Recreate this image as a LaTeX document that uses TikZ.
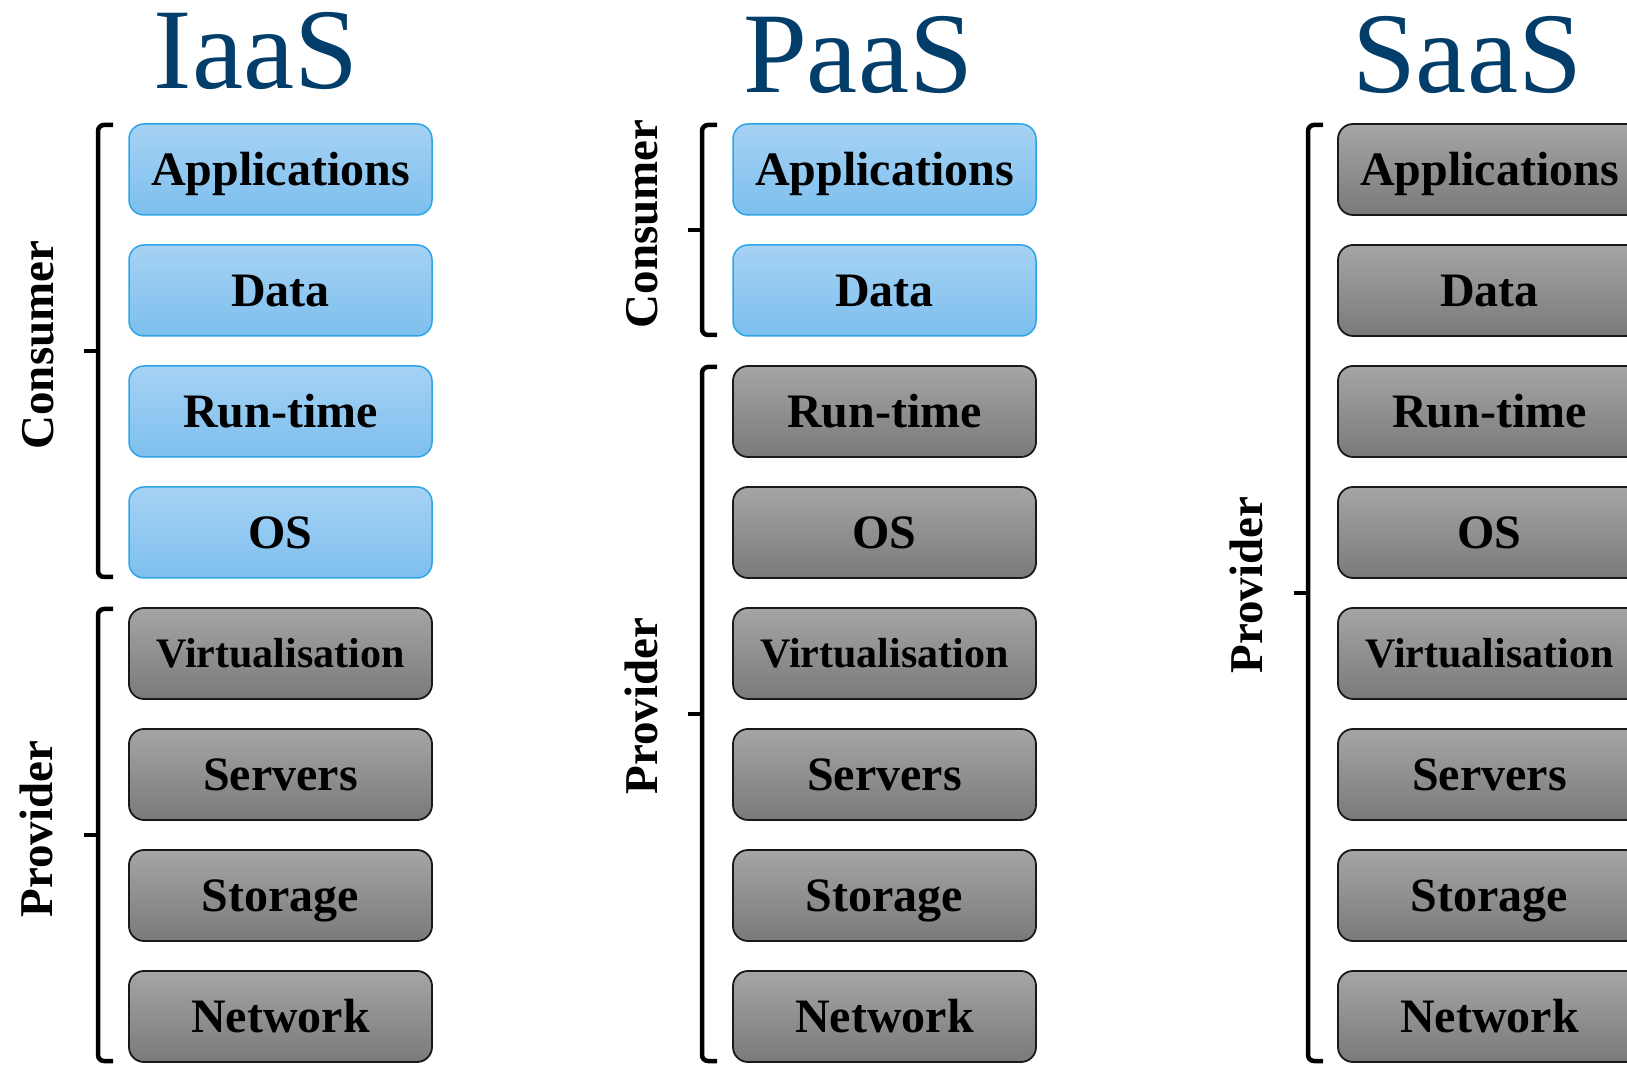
\documentclass[tikz,border=0pt]{standalone}
\usepackage{fontspec}
\setmainfont{Liberation Serif}

\definecolor{titleblue}{RGB}{3,62,107}
\definecolor{userlight}{RGB}{166,210,244}
\definecolor{userdark}{RGB}{125,191,238}
\definecolor{useredge}{RGB}{45,164,230}
\definecolor{provlight}{RGB}{165,165,165}
\definecolor{provdark}{RGB}{122,122,122}

\tikzset{
  layer/.style={rounded corners=15pt, minimum width=303pt, minimum height=91pt,
    text height=32pt, text depth=0pt, inner sep=0pt,
    font=\bfseries\fontsize{48}{50}\selectfont},
  longname/.style={text height=28pt, font=\bfseries\fontsize{42}{44}\selectfont},
  userlayer/.style={layer, draw=useredge, line width=1.5pt, top color=userlight, bottom color=userdark},
  provlayer/.style={layer, draw=black!90, line width=1.8pt, top color=provlight, bottom color=provdark},
  stacktitle/.style={anchor=base, text=titleblue, font=\fontsize{115}{115}\selectfont},
  sidelabel/.style={anchor=base, rotate=90, font=\bfseries\fontsize{47}{49}\selectfont},
  bracket/.style={line width=4.5pt, rounded corners=6pt}
}

\begin{document}
\begin{tikzpicture}[x=1pt,y=1pt]
\clip (0,0) rectangle (1627,1068);

% IaaS
\node[stacktitle] (ititle) at (256,979) {IaaS};
\node[userlayer] (iapp) at (280.5,898.5) {Applications};
\node[userlayer] (idata) at (280.5,777.5) {Data};
\node[userlayer] (irun) at (280.5,656.5) {Run-time};
\node[userlayer] (ios) at (280.5,535.5) {OS};
\node[provlayer, longname] (ivirt) at (280.5,414.5) {Virtualisation};
\node[provlayer] (iserv) at (280.5,293.5) {Servers};
\node[provlayer] (istor) at (280.5,172.5) {Storage};
\node[provlayer] (inet) at (280.5,51.5) {Network};

\draw [bracket] (113,943) -- (98,943) -- (98,491) -- (113,491);
\draw [line width=4.5pt] (98,717) -- (84,717);
\draw [bracket] (113,459) -- (98,459) -- (98,7) -- (113,7);
\draw [line width=4.5pt] (98,233) -- (84,233);
\node[sidelabel] (icons) at (53,723) {Consumer};
\node[sidelabel] (iprov) at (52,239) {Provider};

% PaaS
\node[stacktitle] (ptitle) at (858,975) {PaaS};
\node[userlayer] (papp) at (884.5,898.5) {Applications};
\node[userlayer] (pdata) at (884.5,777.5) {Data};
\node[provlayer] (prun) at (884.5,656.5) {Run-time};
\node[provlayer] (pos) at (884.5,535.5) {OS};
\node[provlayer, longname] (pvirt) at (884.5,414.5) {Virtualisation};
\node[provlayer] (pserv) at (884.5,293.5) {Servers};
\node[provlayer] (pstor) at (884.5,172.5) {Storage};
\node[provlayer] (pnet) at (884.5,51.5) {Network};

\draw [bracket] (717,943) -- (702,943) -- (702,733) -- (717,733);
\draw [line width=4.5pt] (702,838) -- (688,838);
\draw [bracket] (717,701) -- (702,701) -- (702,7) -- (717,7);
\draw [line width=4.5pt] (702,354) -- (688,354);
\node[sidelabel] (pcons) at (657,844) {Consumer};
\node[sidelabel] (pprov) at (657,362) {Provider};

% SaaS
\node[stacktitle] (stitle) at (1467,975) {SaaS};
\node[provlayer] (sapp) at (1489.5,898.5) {Applications};
\node[provlayer] (sdata) at (1489.5,777.5) {Data};
\node[provlayer] (srun) at (1489.5,656.5) {Run-time};
\node[provlayer] (sos) at (1489.5,535.5) {OS};
\node[provlayer, longname] (svirt) at (1489.5,414.5) {Virtualisation};
\node[provlayer] (sserv) at (1489.5,293.5) {Servers};
\node[provlayer] (sstor) at (1489.5,172.5) {Storage};
\node[provlayer] (snet) at (1489.5,51.5) {Network};

\draw [bracket] (1323,943) -- (1308,943) -- (1308,7) -- (1323,7);
\draw [line width=4.5pt] (1308,475) -- (1294,475);
\node[sidelabel] (sprov) at (1262,483) {Provider};

\end{tikzpicture}
\end{document}
